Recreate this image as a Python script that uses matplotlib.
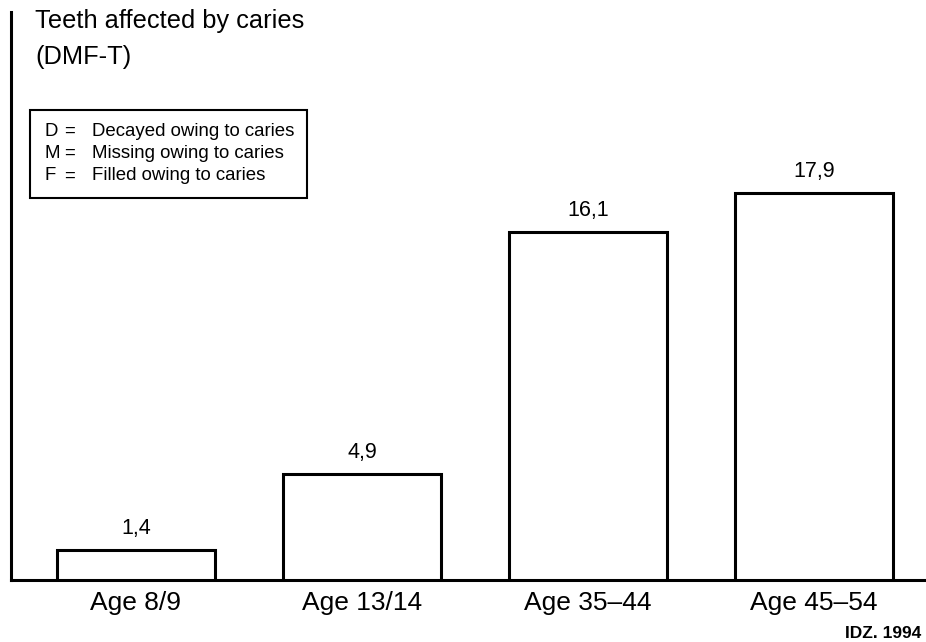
import matplotlib
matplotlib.use("Agg")
import matplotlib.pyplot as plt

plt.rcParams['font.family'] = ['Liberation Sans', 'DejaVu Sans']

# DMF-T index by age group
categories = ["Age 8/9", "Age 13/14", "Age 35\u201344", "Age 45\u201354"]
dmft_values = [1.4, 4.9, 16.1, 17.9]
value_labels = ["1,4", "4,9", "16,1", "17,9"]

legend_lines = [
    ("D", "Decayed owing to caries"),
    ("M", "Missing owing to caries"),
    ("F", "Filled owing to caries"),
]

W, H = 926, 642
fig = plt.figure(figsize=(W / 100, H / 100), dpi=100)
ax = fig.add_axes([11 / W, (H - 580) / H, (W - 11) / W, (580 - 12) / H])

x = range(len(categories))
ax.bar(x, dmft_values, width=0.70, facecolor="white", edgecolor="black",
       linewidth=2.2, zorder=3)

for xi, v, lab in zip(x, dmft_values, value_labels):
    ax.annotate(lab, (xi, v), xytext=(0, 8), textcoords="offset points",
                ha="center", va="bottom", fontsize=15.5, color="black")

ax.set_xlim(-0.553, 3.496)
ax.set_ylim(0, 26.3)
ax.set_xticks(list(x))
ax.set_xticklabels(categories, fontsize=19)
ax.tick_params(axis="x", length=0, pad=8)
ax.set_yticks([])
for side in ("top", "right"):
    ax.spines[side].set_visible(False)
for side in ("left", "bottom"):
    ax.spines[side].set_linewidth(2.2)

# Axis heading
fig.text(35 / W, 1 - 21 / H, "Teeth affected by caries", fontsize=18.3,
         ha="left", va="center")
fig.text(35 / W, 1 - 57 / H, "(DMF-T)", fontsize=18.3,
         ha="left", va="center")

# Key box
box = plt.Rectangle((30 / W, 1 - 198 / H), (307 - 30) / W, (198 - 110) / H,
                    transform=fig.transFigure, facecolor="white",
                    edgecolor="black", linewidth=1.5, zorder=5)
fig.add_artist(box)
for i, (letter, desc) in enumerate(legend_lines):
    yy = 1 - (131 + i * 22.5) / H
    fig.text(45 / W, yy, letter, fontsize=13.4, ha="left", va="center", zorder=6)
    fig.text(64 / W, yy, "=", fontsize=13.4, ha="left", va="center", zorder=6)
    fig.text(92 / W, yy, desc, fontsize=13.4, ha="left", va="center", zorder=6)

fig.text(921 / W, 1 - 633 / H, "IDZ. 1994", fontsize=12.5, fontweight="bold",
         ha="right", va="center")

fig.savefig("out.png", dpi=100, facecolor="white")
